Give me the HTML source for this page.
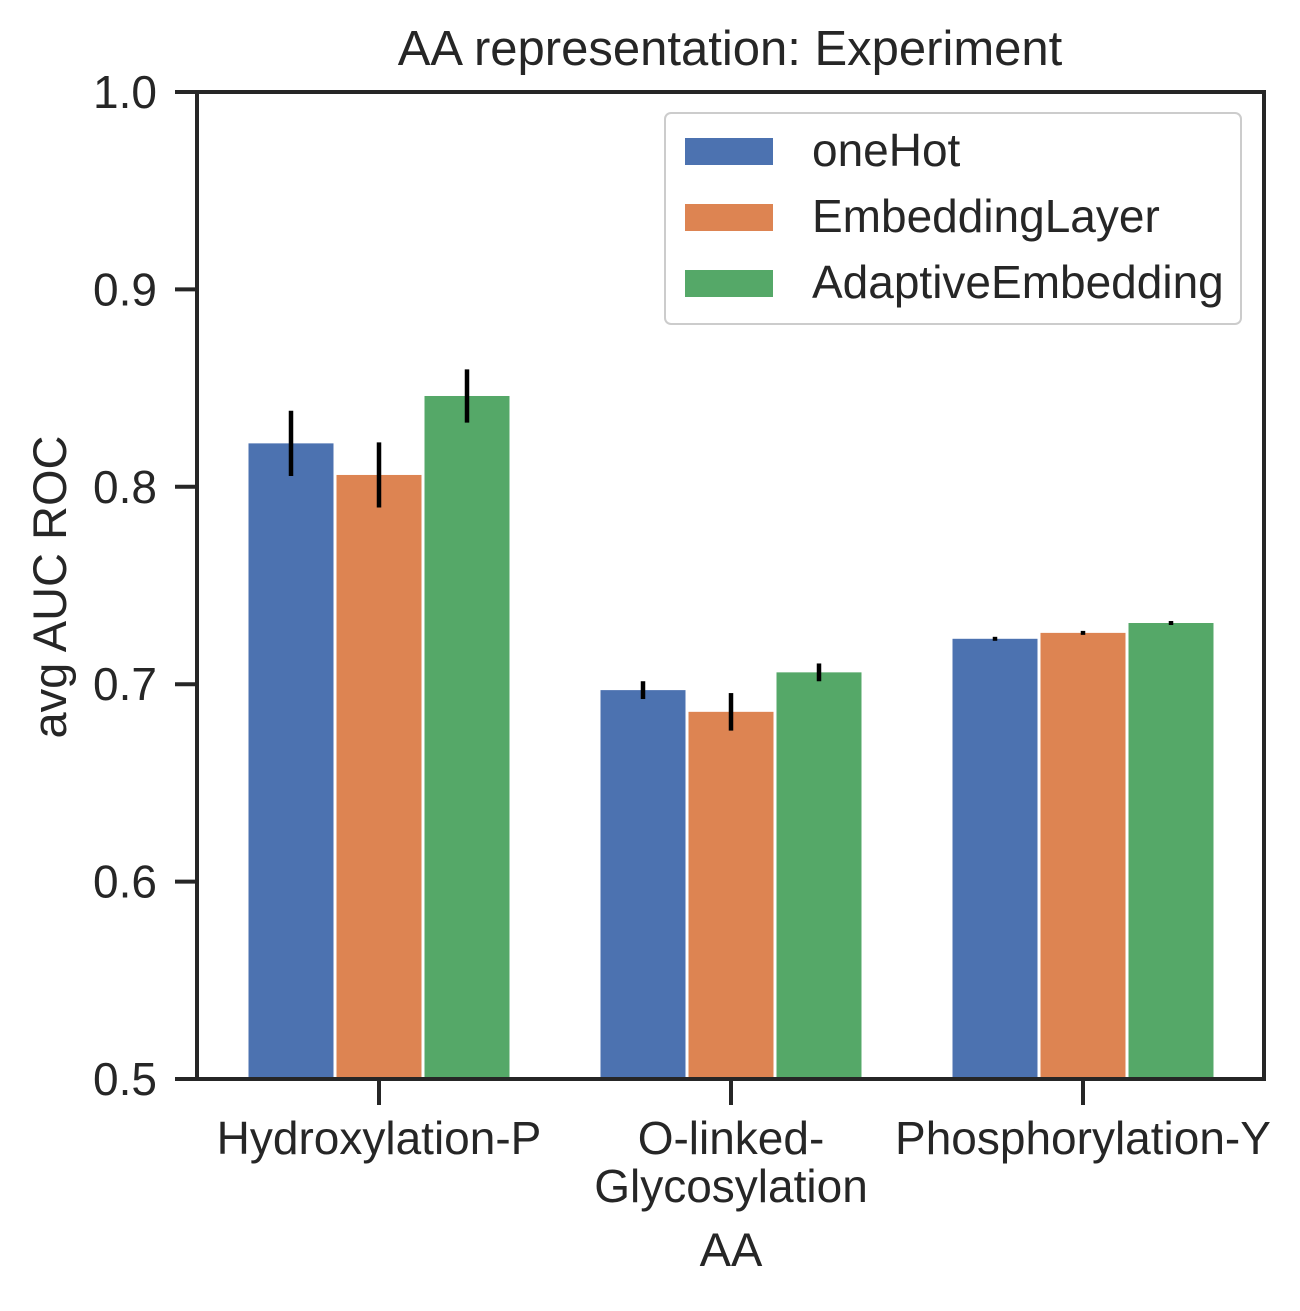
<!DOCTYPE html>
<html><head><meta charset="utf-8"><style>
body{margin:0;background:#fff;}
svg text{font-family:"Liberation Sans",Arial,sans-serif;fill:#262626;}
</style></head><body>
<svg width="1300" height="1306" viewBox="0 0 1300 1306">
<rect width="1300" height="1306" fill="#fff"/>
<g id="bars"></g>
<g id="axes"></g>
<text x="730" y="65" font-size="49" text-anchor="middle">AA representation: Experiment</text>
<text x="731" y="1266" font-size="47" text-anchor="middle">AA</text>
<text transform="translate(66,587) rotate(-90)" font-size="47" text-anchor="middle">avg  AUC ROC</text>
<g>
<rect x="665" y="113" width="576" height="211" rx="6" fill="#fff" stroke="#ccc" stroke-width="2"/>
<rect x="685" y="138" width="88" height="27" fill="#4c72b0"/>
<text x="812" y="166" font-size="46">oneHot</text>
<rect x="685" y="204" width="88" height="27" fill="#dd8452"/>
<text x="812" y="232" font-size="46">EmbeddingLayer</text>
<rect x="685" y="270" width="88" height="27" fill="#55a868"/>
<text x="812" y="298" font-size="46">AdaptiveEmbedding</text>
</g>
</svg>
<script>
const categories=[["Hydroxylation-P"],["O-linked-","Glycosylation"],["Phosphorylation-Y"]];
const seriesNames=["oneHot","EmbeddingLayer","AdaptiveEmbedding"];
const oneHot=[0.822,0.697,0.723];
const embeddingLayer=[0.806,0.686,0.726];
const adaptiveEmbedding=[0.846,0.706,0.731];
const errOneHot=[0.016,0.004,0.0005];
const errEmbedding=[0.016,0.009,0.0005];
const errAdaptive=[0.013,0.004,0.0005];
const yTicks=[0.5,0.6,0.7,0.8,0.9,1.0];
const yTickLabels=["0.5","0.6","0.7","0.8","0.9","1.0"];
const NS="http://www.w3.org/2000/svg";
const L=197,R=1264,T=92,B=1079,ymin=0.5,ymax=1.0;
const y=v=>B-(v-ymin)/(ymax-ymin)*(B-T);
const gw=352;
const x=i=>731+gw*(i-1);
const series=[oneHot,embeddingLayer,adaptiveEmbedding];
const errs=[errOneHot,errEmbedding,errAdaptive];
const colors=["#4c72b0","#dd8452","#55a868"];
const bw=88;
const bars=document.getElementById('bars');
function mk(t,a,p){const e=document.createElementNS(NS,t);for(const k in a)e.setAttribute(k,a[k]);p.appendChild(e);return e;}
series.forEach((s,si)=>{s.forEach((v,ci)=>{
 const cx=x(ci)+(si-1)*bw;
 const r=mk('rect',{x:cx-bw/2+1.5,y:y(v),width:bw-3,height:B-y(v),fill:colors[si]},bars);
 
 
 const e=errs[si][ci];
 const l=mk('line',{x1:cx,x2:cx,y1:y(v+e)-1,y2:y(v-e)+1,stroke:'#000','stroke-width':4.5},bars);
 
 
});});
const ax=document.getElementById('axes');
const fr=mk('rect',{x:L,y:T,width:R-L,height:B-T,fill:'none',stroke:'#262626','stroke-width':4},ax);


yTicks.forEach((v,i)=>{
 mk('line',{x1:L-22,x2:L,y1:y(v),y2:y(v),stroke:'#262626','stroke-width':4},ax);
 const t=mk('text',{x:L-40,y:y(v)+16,'font-size':46,'text-anchor':'end'},ax);
 t.textContent=yTickLabels[i];
 
 
});
categories.forEach((c,i)=>{
 mk('line',{x1:x(i),x2:x(i),y1:B,y2:B+26,stroke:'#262626','stroke-width':4},ax);
 c.forEach((ln,j)=>{
  const t=mk('text',{x:x(i),y:1154+j*48,'font-size':46,'text-anchor':'middle'},ax);
  t.textContent=ln;
  
  
 });
});
</script>
</body></html>
